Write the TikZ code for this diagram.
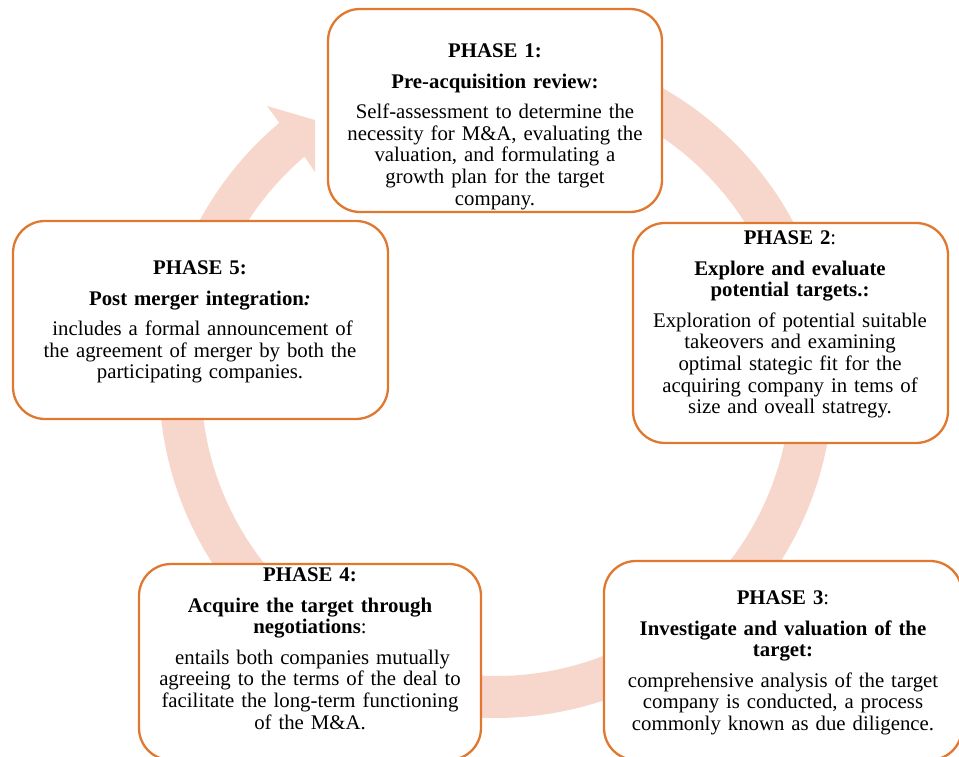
\documentclass[tikz,border=0pt]{standalone}
\usepackage{fontspec}
\setmainfont{Liberation Serif}
\definecolor{boxorange}{HTML}{E0782F}
\definecolor{ringfill}{HTML}{F7D7CC}
\begin{document}
\begin{tikzpicture}[x=1pt,y=1pt,
  phasebox/.style={rectangle, draw=boxorange, line width=2.3pt, fill=white,
    rounded corners=32pt, inner sep=0pt},
  phasetext/.style={anchor=base, text width=360pt, align=center, inner sep=0pt,
    font=\fontsize{20.8}{21.7}\selectfont},
]
\useasboundingbox (0,0) rectangle (959,757);

% circular arrow behind the boxes
\coordinate (c) at (496,376);
\begin{scope}[shift={(c)}]
  \fill[ringfill] (95:337) arc[start angle=95, end angle=-230, radius=337]
    -- (-229,275) -- (-181,261) -- (-181,209) -- (-229.5:295)
    arc[start angle=-229.5, end angle=95, radius=295] -- cycle;
\end{scope}

% phase boxes
\node[phasebox, minimum width=334pt, minimum height=203pt] (b1) at (495,646.5) {};
\node[phasebox, minimum width=315pt, minimum height=220pt] (b2) at (790.5,424) {};
\node[phasebox, minimum width=358pt, minimum height=199pt] (b3) at (783,96.5) {};
\node[phasebox, minimum width=342pt, minimum height=196pt] (b4) at (310,95) {};
\node[phasebox, minimum width=375pt, minimum height=198pt] (b5) at (200.5,437) {};

% texts
\node[phasetext] (t1) at (495,699) {\textbf{PHASE 1:}\\[8.5pt]
  \textbf{Pre-acquisition review:}\\[8.5pt]
  Self-assessment to determine the\\ necessity for M\&A, evaluating the\\
  valuation, and formulating a\\ growth plan for the target\\ company.};

\node[phasetext] (t2) at (790,512) {\textbf{PHASE 2}:\\[8.5pt]
  \textbf{Explore and evaluate}\\ \textbf{potential targets.:}\\[8.5pt]
  Exploration of potential suitable\\ takeovers and examining\\
  optimal stategic fit for the\\ acquiring company in tems of\\
  size and oveall statregy.};

\node[phasetext] (t3) at (783,152) {\textbf{PHASE 3}:\\[8.5pt]
  \textbf{Investigate and valuation of the}\\ \textbf{target:}\\[8.5pt]
  comprehensive analysis of the target\\ company is conducted, a process\\
  commonly known as due diligence.};

\node[phasetext] (t4) at (310,175) {\textbf{PHASE 4:}\\[8.5pt]
  \textbf{Acquire the target through}\\ \textbf{negotiations}:\\[8.5pt]
  \hspace*{0.25em}entails both companies mutually\\ agreeing to the terms of the deal to\\
  facilitate the long-term functioning\\ of the M\&A.};

\node[phasetext] (t5) at (200,482) {\textbf{PHASE 5:}\\[8.5pt]
  \textbf{Post merger integration\textit{:}}\\[8.5pt]
  \hspace*{0.25em}includes a formal announcement of\\ the agreement of merger by both the\\
  participating companies.};
\end{tikzpicture}
\end{document}
